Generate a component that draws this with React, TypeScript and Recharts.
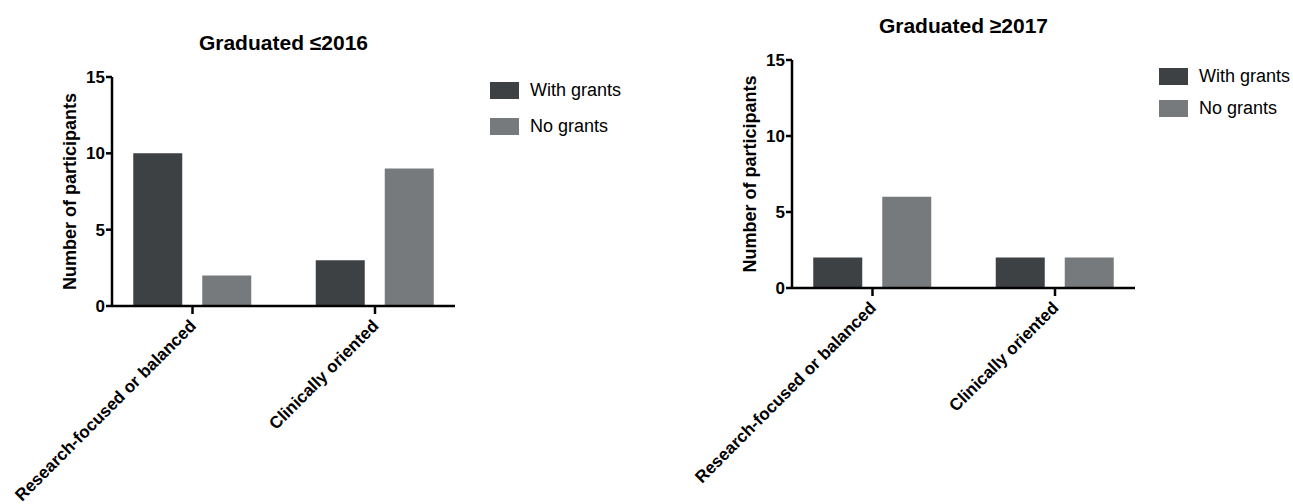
import React from 'react';
import { BarChart, Bar, XAxis, YAxis, Legend } from 'recharts';

const categories = ['Research-focused or balanced', 'Clinically oriented'];
const seriesNames = ['With grants', 'No grants'];
const withGrantsOld = [10, 3];
const noGrantsOld = [2, 9];
const withGrantsNew = [2, 2];
const noGrantsNew = [6, 2];
const yTicks = [0, 5, 10, 15];

const FONT = '"Liberation Sans", Arial, Helvetica, sans-serif';
const DARK = '#3e4144';
const LIGHT = '#777a7d';

const buildRows = (withG: number[], noG: number[]) =>
  categories.map((cat, i) => ({ cat, withGrants: withG[i], noGrants: noG[i] }));

const XTick = (props: any) => {
  const { x, y, payload } = props;
  const px = x + 4.5;
  const py = y + 11;
  return (
    <text
      x={px}
      y={py}
      transform={`rotate(-45 ${px} ${py})`}
      textAnchor="end"
      fontSize={17}
      fontWeight="bold"
      fontFamily={FONT}
      fill="#000"
    >
      {payload.value}
    </text>
  );
};

const yLabel = (props: any) => {
  const vb = props.viewBox || {};
  const cx = vb.x + vb.width - 42;
  const cy = vb.y + vb.height / 2;
  return (
    <text
      x={cx}
      y={cy}
      transform={`rotate(-90 ${cx} ${cy})`}
      textAnchor="middle"
      dominantBaseline="central"
      fontSize={18}
      fontWeight="bold"
      fontFamily={FONT}
      fill="#000"
    >
      Number of participants
    </text>
  );
};

const makeLegend = (rowH: number) => (props: any) => {
  const items = [...(props.payload || [])].sort(
    (a: any, b: any) => seriesNames.indexOf(a.value) - seriesNames.indexOf(b.value)
  );
  return (
    <div style={{ fontFamily: FONT, fontSize: 18, color: '#000' }}>
      {items.map((e: any) => (
        <div key={e.value} style={{ display: 'flex', alignItems: 'center', height: rowH }}>
          <span style={{ display: 'inline-block', width: 29, height: 17, background: e.color, marginRight: 11 }} />
          <span style={{ whiteSpace: 'nowrap' }}>{e.value}</span>
        </div>
      ))}
    </div>
  );
};

type PanelProps = {
  title: string;
  rows: any[];
  left: number;
  width: number;
  top: number;
  bottom: number;
  legendLeft: number;
  legendTop: number;
  rowH: number;
};

function Panel({ title, rows, left, width, top, bottom, legendLeft, legendTop, rowH }: PanelProps) {
  const plotLeft = 112;
  const plotRight = plotLeft + 343;
  const axisStroke = { stroke: '#000', strokeWidth: 2.5 };
  return (
    <div style={{ position: 'absolute', left, top: 0, width, height: 504 }}>
      <div
        style={{
          position: 'absolute',
          left: plotLeft,
          width: 343,
          top: top - 45,
          textAlign: 'center',
          fontFamily: FONT,
          fontWeight: 'bold',
          fontSize: 21,
          lineHeight: '21px',
          color: '#000',
        }}
      >
        {title}
      </div>
      <BarChart
        width={width}
        height={504}
        data={rows}
        margin={{ top, bottom: 504 - bottom - 190, left: plotLeft - 40, right: width - plotRight }}
        barSize={49}
        barGap={20}
      >
        <XAxis
          dataKey="cat"
          interval={0}
          height={190}
          tickSize={8}
          tickMargin={2}
          padding={{ left: -10.75, right: -11.25 }}
          axisLine={axisStroke}
          tickLine={axisStroke}
          tick={<XTick />}
        />
        <YAxis
          domain={[0, 15]}
          ticks={yTicks}
          width={40}
          tickSize={6}
          tickMargin={1}
          axisLine={axisStroke}
          tickLine={axisStroke}
          tick={{ fill: '#000', fontSize: 17, fontWeight: 'bold', fontFamily: FONT }}
          label={yLabel}
        />
        <Legend
          layout="vertical"
          align="center"
          verticalAlign="middle"
          content={makeLegend(rowH)}
          wrapperStyle={{ left: legendLeft, top: legendTop, width: 160 }}
        />
        <Bar dataKey="withGrants" name={seriesNames[0]} fill={DARK} isAnimationActive={false} />
        <Bar dataKey="noGrants" name={seriesNames[1]} fill={LIGHT} isAnimationActive={false} />
      </BarChart>
    </div>
  );
}

export default function App() {
  return (
    <div style={{ position: 'absolute', left: 0, top: 0, width: 1293, height: 504, background: '#fff', overflow: 'hidden' }}>
      <Panel
        title="Graduated ≤2016"
        rows={buildRows(withGrantsOld, noGrantsOld)}
        left={0}
        width={660}
        top={77}
        bottom={306}
        legendLeft={490}
        legendTop={72.75}
        rowH={35.5}
      />
      <Panel
        title="Graduated ≥2017"
        rows={buildRows(withGrantsNew, noGrantsNew)}
        left={680}
        width={613}
        top={60}
        bottom={288}
        legendLeft={479}
        legendTop={60.5}
        rowH={32}
      />
    </div>
  );
}
